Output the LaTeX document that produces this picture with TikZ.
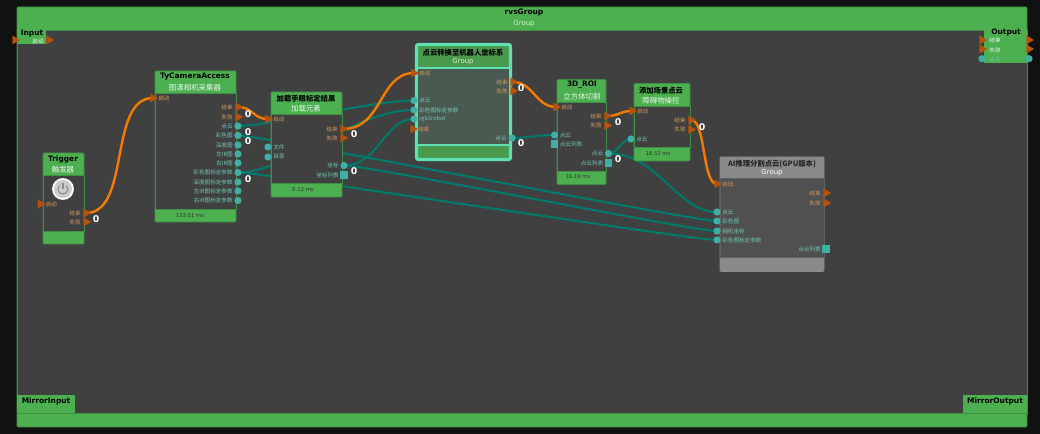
\documentclass[tikz,border=0pt]{standalone}
\usepackage{fontspec}
\setmainfont{Noto Sans CJK SC}
\newfontfamily\latinfont{DejaVu Sans}
\usetikzlibrary{shapes.geometric,fit}

\definecolor{pagebg}{HTML}{111111}
\definecolor{canvasbg}{HTML}{404040}
\definecolor{blockgreen}{HTML}{4CAF50}
\definecolor{edgegreen}{HTML}{3F8F45}
\definecolor{flowcolor}{HTML}{F57C00}
\definecolor{flowtip}{HTML}{B8520A}
\definecolor{flowtext}{HTML}{D39A5C}
\definecolor{datacolor}{HTML}{00796B}
\definecolor{dataport}{HTML}{3FAEA4}
\definecolor{datatext}{HTML}{74C6B8}
\definecolor{selectcolor}{HTML}{5EE0B2}
\definecolor{selecthead}{HTML}{4A9A4E}
\definecolor{selectbody}{HTML}{4A5A50}
\definecolor{aihead}{HTML}{8A8A8A}
\definecolor{aibody}{HTML}{505050}

\pgfdeclarelayer{under}
\pgfsetlayers{under,main}

\tikzset{
  flowport/.style={regular polygon,regular polygon sides=3,shape border rotate=-90,fill=flowtip,inner sep=0pt,minimum size=7.6pt},
  dataport/.style={circle,fill=dataport,inner sep=0pt,minimum size=5.4pt},
  listport/.style={rectangle,fill=dataport,inner sep=0pt,minimum size=5.4pt},
  flowporttext/.style={text=flowtext,font=\fontsize{4.2}{4}\selectfont,inner sep=0pt},
  dataporttext/.style={text=datatext,font=\fontsize{4.2}{4}\selectfont,inner sep=0pt},
  listporttext/.style={dataporttext},
  flowline/.style={draw=flowcolor,line width=1.8pt},
  dataline/.style={draw=datacolor,line width=1.6pt},
  blockframe/.style={rectangle,inner sep=0pt,rounded corners=0.8pt,draw=edgegreen,line width=0.5pt,fill=blockgreen},
  blockbody/.style={rectangle,inner sep=0pt,draw=edgegreen,line width=0.5pt,fill=canvasbg},
  aiframe/.style={rectangle,inner sep=0pt,rounded corners=0.8pt,draw=aihead,line width=0.5pt,fill=aihead},
  aibodybox/.style={rectangle,inner sep=0pt,draw=aihead!70!black,line width=0.5pt,fill=aibody},
  selframe/.style={rectangle,inner sep=0pt,rounded corners=1.5pt,draw=selectcolor,line width=2.4pt,fill=selecthead},
  selbodybox/.style={rectangle,inner sep=0pt,draw=selectcolor,line width=1.6pt,fill=selectbody},
  titletext/.style={text=black,font=\latinfont\bfseries\fontsize{5.6}{6}\selectfont,inner sep=0pt},
  cjktitle/.style={text=black,font=\fontsize{5.5}{6}\selectfont\bfseries,inner sep=0pt},
  subtitle/.style={text=white!90!blockgreen,font=\fontsize{5.6}{6}\selectfont,inner sep=0pt},
  grouptext/.style={text=white!80!blockgreen,font=\latinfont\fontsize{5.2}{6}\selectfont,inner sep=0pt},
  timetext/.style={text=black!80,font=\latinfont\fontsize{4}{5}\selectfont,inner sep=0pt},
  counter/.style={text=white,font=\latinfont\bfseries\fontsize{7}{7}\selectfont,inner sep=0pt},
  frametext/.style={text=white!90!blockgreen,font=\fontsize{4.2}{4}\selectfont,inner sep=0pt},
}

% name, left, top, right, header bottom, footer top, bottom, frame style, body style
\newcommand{\block}[9]{
  \node[#8,fit={(#2,#3)(#4,#7)}] (#1) {};
  \node[#9,fit={(#2,#5)(#4,#6)}] (#1Body) {};
}
% port with its label on the right / on the left
\newcommand{\portE}[5]{
  \node[#1] (#2) at (#3,#4) {};
  \node[#1text,anchor=west,xshift=3.8pt] (#2Text) at (#3,#4) {#5};
}
\newcommand{\portW}[5]{
  \node[#1] (#2) at (#3,#4) {};
  \node[#1text,anchor=east,xshift=-3.8pt] (#2Text) at (#3,#4) {#5};
}

\begin{document}
\begin{tikzpicture}[x=0.75pt,y=-0.75pt]
  \useasboundingbox (0,0) rectangle (1040,434);

  \begin{pgfonlayer}{under}
    \fill[pagebg] (0,0) rectangle (1040,434);
    \block{rvsGroup}{17}{7}{1027}{30}{413}{427}{blockframe}{blockbody}
  \end{pgfonlayer}
  \node[titletext] (rvsTitle) at (524,12.5) {rvsGroup};
  \node[grouptext] (rvsSub) at (524,24) {Group};

  % corner boxes of the outer group
  \node[rectangle,fill=blockgreen,inner sep=0pt,fit={(17,29)(46,44)}] (inputBox) {};
  \node[titletext] (inputTitle) at (32,33.5) {Input};
  \node[frametext] (inputText) at (38,41) {启动};
  \node[flowport] (inputA) at (15,40) {};
  \node[flowport] (inputB) at (49,40) {};

  \node[rectangle,fill=blockgreen,inner sep=0pt,fit={(984,29)(1027,63)}] (outputBox) {};
  \node[titletext] (outputTitle) at (1006,33) {Output};
  \node[frametext] (outputTextA) at (995,40.5) {结束};
  \node[frametext] (outputTextB) at (995,50) {失败};
  \node[frametext,text=datatext] (outputTextC) at (995,59.5) {点云};
  \node[flowport] (outputA) at (982,40) {};
  \node[flowport] (outputB) at (982,49) {};
  \node[dataport] (outputC) at (982,58.7) {};
  \node[flowport] (outputD) at (1029,40) {};
  \node[flowport] (outputE) at (1029,49) {};
  \node[dataport] (outputF) at (1029,58.7) {};

  \node[rectangle,fill=blockgreen,inner sep=0pt,fit={(17,395)(75,413)}] (mirrorInBox) {};
  \node[titletext] (mirrorInTitle) at (46,401) {MirrorInput};
  \node[rectangle,fill=blockgreen,inner sep=0pt,fit={(963,395)(1027,413)}] (mirrorOutBox) {};
  \node[titletext] (mirrorOutTitle) at (995,401) {MirrorOutput};

  % Trigger
  \block{trig}{43}{153}{84}{175}{231}{244}{blockframe}{blockbody}
  \node[titletext] (trigTitle) at (63,159.5) {Trigger};
  \node[subtitle] (trigSub) at (63,170) {触发器};
  \node[circle,fill=white,draw=black!60,densely dotted,line width=0.3pt,minimum size=16.5pt,inner sep=0pt] (trigIcon) at (63,189) {};
  \node[circle,fill=black!20,inner sep=0pt,minimum size=13.5pt] (trigDisc) at (63,189) {};
  \draw[black!45,line width=0.8pt] (66.5,185.5) arc[start angle=-45,end angle=225,radius=5];
  \draw[black!45,line width=0.8pt] (63,183) -- (63,189);
  \portE{flowport}{trigStart}{40.5}{204}{启动}
  \portW{flowport}{trigDone}{86}{213}{结束}
  \portW{flowport}{trigFail}{86}{222}{失败}
  \node[counter] (trigCount) at (96,219) {0};

  % TyCameraAccess
  \block{cam}{155}{71}{236}{93}{209}{222}{blockframe}{blockbody}
  \node[titletext] (camTitle) at (195,76.5) {TyCameraAccess};
  \node[subtitle] (camSub) at (195,88) {图漾相机采集器};
  \portE{flowport}{camStart}{153}{98}{启动}
  \portW{flowport}{camDone}{238}{107}{结束}
  \portW{flowport}{camFail}{238}{117}{失败}
  \foreach \nm/\yy/\txt in {Cloud/126/点云,Color/135.5/彩色图,Depth/145/深度图,LeftIr/154/左IR图,RightIr/163/右IR图,ColorParam/172.5/彩色图标定参数,DepthParam/182/深度图标定参数,LeftParam/191/左IR图标定参数,RightParam/200.5/右IR图标定参数}{
    \portW{dataport}{cam\nm}{238}{\yy}{\txt}
  }
  \node[timetext] (camTime) at (190,215.5) {133.51 ms};
  \node[counter] (camCountA) at (248,114) {0};
  \node[counter] (camCountB) at (248,132) {0};
  \node[counter] (camCountC) at (248,141) {0};
  \node[counter] (camCountD) at (248,179) {0};

  % hand-eye result loader
  \block{load}{271}{92}{342}{114}{183.5}{197}{blockframe}{blockbody}
  \node[cjktitle] (loadTitle) at (306,98.5) {加载手眼标定结果};
  \node[subtitle] (loadSub) at (306,109) {加载元素};
  \portE{flowport}{loadStart}{268}{119}{启动}
  \portE{dataport}{loadFile}{268}{147}{文件}
  \portE{dataport}{loadDir}{268}{157}{目录}
  \portW{flowport}{loadDone}{343}{129}{结束}
  \portW{flowport}{loadFail}{343}{138}{失败}
  \portW{dataport}{loadPose}{344}{165.5}{坐标}
  \portW{listport}{loadPoseList}{344}{175}{坐标列表}
  \node[timetext] (loadTime) at (303,190) {0.13 ms};
  \node[counter] (loadCountA) at (354,134) {0};
  \node[counter] (loadCountB) at (354,171) {0};

  % selected group
  \block{conv}{416.5}{44.5}{510.5}{68}{145}{159.5}{selframe}{selbodybox}
  \node[cjktitle] (convTitle) at (463,53) {点云转换至机器人坐标系};
  \node[grouptext] (convSub) at (463,61.5) {Group};
  \portE{flowport}{convStart}{414}{73}{启动}
  \portE{dataport}{convCloud}{414}{100.5}{点云}
  \portE{dataport}{convParam}{414}{110}{彩色图标定参数}
  \portE{dataport}{convRobot}{414}{119}{rgb2robot}
  \portE{flowport}{convEnd}{413}{129}{结束}
  \portW{flowport}{convDone}{513}{82}{结束}
  \portW{flowport}{convFail}{513}{91}{失败}
  \portW{dataport}{convOut}{512}{138}{点云}
  \node[counter] (convCountA) at (521,88) {0};
  \node[counter] (convCountB) at (521,143) {0};

  % 3D_ROI
  \block{roi}{557}{79.5}{606}{102}{171}{184.5}{blockframe}{blockbody}
  \node[titletext] (roiTitle) at (582,85) {3D\_ROI};
  \node[subtitle] (roiSub) at (582,97) {立方体切割};
  \portE{flowport}{roiStart}{556}{107}{启动}
  \portE{dataport}{roiCloud}{554.5}{135}{点云}
  \portE{listport}{roiList}{554.5}{144}{点云列表}
  \portW{flowport}{roiDone}{607}{116}{结束}
  \portW{flowport}{roiFail}{607}{125.5}{失败}
  \portW{dataport}{roiOut}{608.5}{153.5}{点云}
  \portW{listport}{roiOutList}{608.5}{163}{点云列表}
  \node[timetext] (roiTime) at (578,177) {16.19 ms};
  \node[counter] (roiCountA) at (618,122) {0};
  \node[counter] (roiCountB) at (618,159) {0};

  % scene cloud
  \block{scene}{634}{83.5}{690}{106}{147.5}{161}{blockframe}{blockbody}
  \node[cjktitle] (sceneTitle) at (661,91) {添加场景点云};
  \node[subtitle] (sceneSub) at (661,101) {障碍物操控};
  \portE{flowport}{sceneStart}{632}{111}{启动}
  \portE{dataport}{sceneCloud}{631}{139}{点云}
  \portW{flowport}{sceneDone}{691}{120}{结束}
  \portW{flowport}{sceneFail}{691}{129.5}{失败}
  \node[timetext] (sceneTime) at (658,154) {16.52 ms};
  \node[counter] (sceneCount) at (702,127) {0};

  % AI segmentation group
  \block{seg}{720}{157}{824}{178.5}{257.5}{271.5}{aiframe}{aibodybox}
  \node[cjktitle,text=black!85] (segTitle) at (772,164) {AI推理分割点云(GPU版本)};
  \node[grouptext,text=white!80] (segSub) at (772,172.5) {Group};
  \portE{flowport}{segStart}{717}{184}{启动}
  \portE{dataport}{segCloud}{717}{212}{点云}
  \portE{dataport}{segColor}{717}{221}{彩色图}
  \portE{dataport}{segPose}{717}{231}{相机坐标}
  \portE{dataport}{segParam}{717}{240}{彩色图标定参数}
  \portW{flowport}{segDone}{826}{193}{结束}
  \portW{flowport}{segFail}{826}{203}{失败}
  \portW{listport}{segList}{826}{249}{点云列表}

  % connectors go under the blocks
  \begin{pgfonlayer}{under}
    \draw[dataline] (camCloud.center) .. controls +(30,0) and +(-40,0) .. (convCloud.center);
    \draw[dataline] (camColorParam.center) .. controls +(50,0) and +(-60,0) .. (convParam.center);
    \draw[dataline] (loadPose.center) .. controls +(35,0) and +(-30,0) .. (convRobot.center);
    \draw[dataline] (convOut.center) .. controls +(15,0) and +(-15,0) .. (roiCloud.center);
    \draw[dataline] (roiOut.center) .. controls +(10,0) and +(-10,0) .. (sceneCloud.center);
    \draw[dataline] (roiOut.center) .. controls +(50,0) and +(-40,0) .. (segCloud.center);
    \draw[dataline] (camColor.center) .. controls +(25,0) and +(-25,0) .. (segColor.center);
    \draw[dataline] (loadPose.center) .. controls +(25,0) and +(-25,0) .. (segPose.center);
    \draw[dataline] (camColorParam.center) .. controls +(25,0) and +(-25,0) .. (segParam.center);

    \draw[flowline] (trigDone.center) .. controls +(45,0) and +(-45,0) .. (camStart.center);
    \draw[flowline] (camDone.center) .. controls +(15,0) and +(-15,0) .. (loadStart.center);
    \draw[flowline] (loadDone.center) .. controls +(40,0) and +(-35,0) .. (convStart.center);
    \draw[flowline] (convDone.center) .. controls +(20,0) and +(-20,0) .. (roiStart.center);
    \draw[flowline] (roiDone.center) .. controls +(12,0) and +(-12,0) .. (sceneStart.center);
    \draw[flowline] (sceneDone.center) .. controls +(15,0) and +(-15,0) .. (segStart.center);
  \end{pgfonlayer}
\end{tikzpicture}
\end{document}
